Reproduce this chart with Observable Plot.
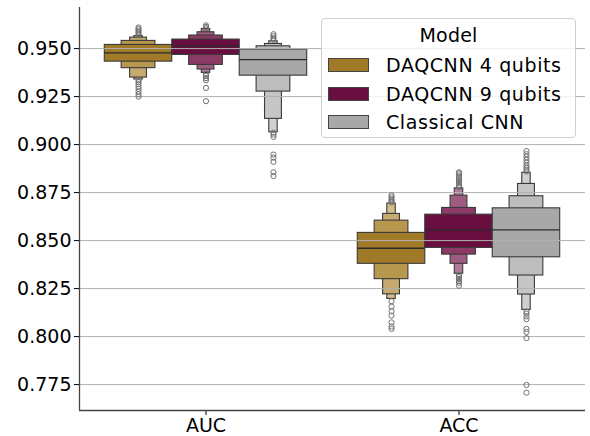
<!DOCTYPE html>
<html><head><meta charset="utf-8">
<script src="https://cdn.jsdelivr.net/npm/d3@7"></script>
<script src="https://cdn.jsdelivr.net/npm/@observablehq/plot@0.6"></script>
<style>
body{margin:0;background:#fff;font-family:"DejaVu Sans",sans-serif;}
#wrap{position:relative;width:590px;height:436px;}
#legend{position:absolute;left:321px;top:18px;width:255px;height:120px;background:rgba(255,255,255,0.8);border:1px solid #cfcfcf;border-radius:4px;box-sizing:border-box;font-size:19px;color:#000;}
#legend .title{position:absolute;left:0;right:0;top:5px;text-align:center;letter-spacing:0.2px;}
#legend .row{position:absolute;left:6px;height:16px;display:flex;align-items:center;letter-spacing:0.6px;}
#legend .sw{width:41px;height:14px;border:1px solid #444;box-sizing:border-box;margin-right:17px;}
</style></head>
<body><div id="wrap"><div id="chart"></div><div id="legend"></div></div>
<script>
const metrics = ["AUC", "ACC"];
const models = ["DAQCNN 4 qubits", "DAQCNN 9 qubits", "Classical CNN"];
const modelColors = ["#a07a28", "#690f40", "#a8a8a8"];
// fill of letter-value levels (innermost -> outermost) per model
const levelFills = [
  ["#a07a28", "#b8974f", "#c6aa6f", "#d3bd8b"],
  ["#690f40", "#8c3a66", "#9e5c80", "#b17a98"],
  ["#a8a8a8", "#bdbdbd", "#c6c6c6", "#d0d0d0"]
];
const yTicks = [0.775, 0.8, 0.825, 0.85, 0.875, 0.9, 0.925, 0.95];

// medians per model
const medianAUC = [0.9478, 0.9514, 0.9443];
const medianACC = [0.8460, 0.8556, 0.8556];

// letter-value boxes [low, high], innermost level first
const lvAUC4q = [[0.9432, 0.9519], [0.9398, 0.9540], [0.9349, 0.9557], [0.9339, 0.9565]];
const lvAUC9q = [[0.9467, 0.9547], [0.9415, 0.9568], [0.9391, 0.9585], [0.9373, 0.9602]];
const lvAUCcl = [[0.9359, 0.9495], [0.9276, 0.9512], [0.9134, 0.9524], [0.9064, 0.9538]];
const lvACC4q = [[0.8379, 0.8540], [0.8299, 0.8604], [0.8220, 0.8639], [0.8196, 0.8693]];
const lvACC9q = [[0.8462, 0.8635], [0.8427, 0.8670], [0.8379, 0.8734], [0.8327, 0.8772]];
const lvACCcl = [[0.8413, 0.8668], [0.8318, 0.8731], [0.8219, 0.8795], [0.8139, 0.8853]];

// outliers
const outAUC4q = [0.9570, 0.9578, 0.9586, 0.9594, 0.9602, 0.9610, 0.9335, 0.9325, 0.9315, 0.9302, 0.9290, 0.9276, 0.9262, 0.9250];
const outAUC9q = [0.9606, 0.9613, 0.9621, 0.9368, 0.9358, 0.9346, 0.9335, 0.9295, 0.9226];
const outAUCcl = [0.9545, 0.9555, 0.9565, 0.9575, 0.9062, 0.9052, 0.9040, 0.8948, 0.8932, 0.8910, 0.8856, 0.8836];
const outACC4q = [0.8698, 0.8706, 0.8716, 0.8726, 0.8736, 0.8184, 0.8156, 0.8132, 0.8109, 0.8074, 0.8052, 0.8040];
const outACC9q = [0.8780, 0.8790, 0.8800, 0.8810, 0.8820, 0.8830, 0.8840, 0.8850, 0.8856, 0.8320, 0.8310, 0.8300, 0.8290, 0.8280, 0.8265];
const outACCcl = [0.8860, 0.8870, 0.8880, 0.8890, 0.8905, 0.8920, 0.8935, 0.8950, 0.8966, 0.8130, 0.8120, 0.8105, 0.8090, 0.8040, 0.8024, 0.7992, 0.7748, 0.7708];

const xDomain = [-0.5, 1.5];
const yDomain = [0.7615, 0.9714];
const groupWidth = 0.8;

const lvs = {AUC: [lvAUC4q, lvAUC9q, lvAUCcl], ACC: [lvACC4q, lvACC9q, lvACCcl]};
const meds = {AUC: medianAUC, ACC: medianACC};
const outs = {AUC: [outAUC4q, outAUC9q, outAUCcl], ACC: [outACC4q, outACC9q, outACCcl]};

const boxW = groupWidth / models.length;
const boxes = [], medRows = [], outRows = [];
metrics.forEach((m, mi) => {
  models.forEach((mod, k) => {
    const c = mi + (k - (models.length - 1) / 2) * boxW;
    lvs[m][k].forEach(([lo, hi], j) => {
      const half = boxW / 2 / Math.pow(2, j);
      boxes.push({level: j, x1: c - half, x2: c + half, lo, hi, fill: levelFills[k][j]});
    });
    medRows.push({x1: c - boxW / 2, x2: c + boxW / 2, v: meds[m][k]});
    outs[m][k].forEach(v => outRows.push({x: c, v}));
  });
});
boxes.sort((a, b) => b.level - a.level);

const chart = Plot.plot({
  width: 590, height: 436,
  marginLeft: 79, marginRight: 5, marginTop: 7, marginBottom: 26,
  style: {fontFamily: "DejaVu Sans, sans-serif", fontSize: "19px", color: "#000", background: "#fff"},
  x: {type: "linear", domain: xDomain, ticks: [0, 1], tickFormat: i => metrics[i], tickSize: 5, tickPadding: 3, label: null},
  y: {domain: yDomain, ticks: yTicks, tickFormat: d3.format(".3f"), tickSize: 5, tickPadding: 3, label: null},
  color: {type: "identity"},
  marks: [
    Plot.rect(boxes, {x1: "x1", x2: "x2", y1: "lo", y2: "hi", fill: "fill", stroke: "#3a3a3a", strokeWidth: 1.1}),
    Plot.ruleY(medRows, {y: "v", x1: "x1", x2: "x2", stroke: "#2b2b2b", strokeWidth: 1.3}),
    Plot.ruleY(yTicks, {stroke: "#b0b0b0", strokeWidth: 1}),
    Plot.dot(outRows, {x: "x", y: "v", r: 2.6, stroke: "#707070", fill: "none", strokeWidth: 1}),
    Plot.ruleX([xDomain[0]], {stroke: "#444", strokeWidth: 1.3}),
    Plot.ruleY([yDomain[0]], {stroke: "#444", strokeWidth: 1.3})
  ]
});
document.getElementById("chart").appendChild(chart);

// legend
const lg = document.getElementById("legend");
const t = document.createElement("div"); t.className = "title"; t.textContent = "Model"; lg.appendChild(t);
models.forEach((m, i) => {
  const r = document.createElement("div"); r.className = "row"; r.style.top = (38 + i * 28.5) + "px";
  const s = document.createElement("div"); s.className = "sw"; s.style.background = modelColors[i];
  const l = document.createElement("span"); l.textContent = m;
  r.appendChild(s); r.appendChild(l); lg.appendChild(r);
});
</script></body></html>
